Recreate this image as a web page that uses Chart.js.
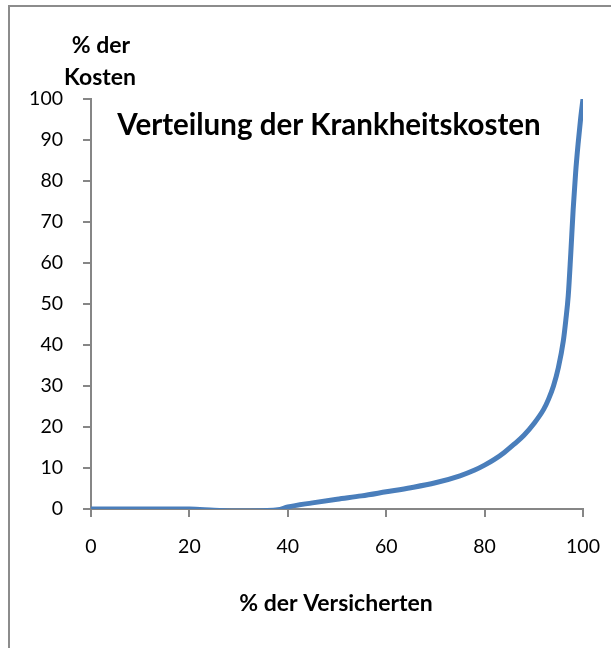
<!DOCTYPE html>
<html>
<head>
<meta charset="utf-8">
<script src="https://cdn.jsdelivr.net/npm/chart.js@4/dist/chart.umd.min.js"></script>
<style>
  html, body { margin: 0; padding: 0; background: #fff; }
  #wrap { width: 611px; height: 648px; position: relative; }
</style>
</head>
<body>
<div id="wrap"><canvas id="c" width="611" height="648"></canvas></div>
<script>
// Share of insured persons (%) and cumulative share of costs (%)
const versicherte = [0, 10, 20, 25, 30, 35, 38, 40, 45, 50, 55, 60, 65, 70, 75, 78, 80, 82, 84, 86, 88, 90, 92, 93, 94, 95, 96, 96.5, 97, 97.5, 98, 98.5, 99, 99.5, 100];
const kosten      = [0, 0, 0, -0.3, -0.5, -0.4, -0.2, 0.5, 1.5, 2.4, 3.2, 4.2, 5.2, 6.4, 8.1, 9.5, 10.7, 12.1, 13.8, 15.8, 18.0, 20.8, 24.3, 26.8, 30, 34.5, 41, 46, 52, 62, 73, 82, 89, 95, 100];

const chartTitle = 'Verteilung der Krankheitskosten';
const yTitleLines = ['% der', 'Kosten'];
const xTitle = '% der Versicherten';

const FONT = 'Lato, "Open Sans", sans-serif';
const AXIS_GRAY = '#868686';

const textPlugin = {
  id: 'labels',
  beforeDraw(chart) {
    const ctx = chart.ctx;
    ctx.save();
    ctx.fillStyle = '#fff';
    ctx.fillRect(0, 0, chart.width, chart.height);
    ctx.strokeStyle = '#8c8c8c';
    ctx.lineWidth = 2;
    ctx.strokeRect(9, 6, chart.width + 20, chart.height + 20);
    ctx.restore();
  },
  afterDraw(chart) {
    const ctx = chart.ctx;
    const a = chart.chartArea;
    ctx.save();
    ctx.fillStyle = '#000';
    ctx.textAlign = 'center';
    ctx.textBaseline = 'alphabetic';
    ctx.font = 'bold 29.5px ' + FONT;
    ctx.fillText(chartTitle, 329, 135);
    ctx.font = 'bold 23px ' + FONT;
    ctx.fillText(yTitleLines[0], 101, 53);
    ctx.fillText(yTitleLines[1], 100, 85);
    ctx.fillText(xTitle, (a.left + a.right) / 2 - 1, 611);
    ctx.restore();
  }
};

new Chart(document.getElementById('c'), {
  type: 'line',
  data: {
    datasets: [{
      data: versicherte.map((x, i) => ({ x, y: kosten[i] })),
      borderColor: '#4A7EBB',
      borderWidth: 5,
      pointRadius: 0,
      cubicInterpolationMode: 'monotone',
      fill: false
    }]
  },
  options: {
    responsive: false,
    animation: false,
    devicePixelRatio: 1,
    layout: { padding: { left: 0, right: 28, top: 99, bottom: 0 } },
    plugins: { legend: { display: false }, tooltip: { enabled: false }, title: { display: false } },
    scales: {
      x: {
        type: 'linear',
        min: 0, max: 100,
        ticks: { stepSize: 20, color: '#000', font: { family: FONT, size: 19.5 }, padding: 18, maxRotation: 0 },
        grid: { drawOnChartArea: false, color: AXIS_GRAY, tickLength: 8, lineWidth: 2 },
        border: { color: AXIS_GRAY, width: 2 },
        afterFit(s) { s.height = 139; s.paddingRight = 0; s.paddingLeft = 0; }
      },
      y: {
        min: 0, max: 100,
        ticks: { stepSize: 10, color: '#000', font: { family: FONT, size: 19.5 }, padding: 20 },
        grid: { drawOnChartArea: false, color: AXIS_GRAY, tickLength: 8, lineWidth: 2 },
        border: { color: AXIS_GRAY, width: 2 },
        afterFit(s) { s.width = 91; s.paddingTop = 0; s.paddingBottom = 0; }
      }
    }
  },
  plugins: [textPlugin]
});
</script>
</body>
</html>
